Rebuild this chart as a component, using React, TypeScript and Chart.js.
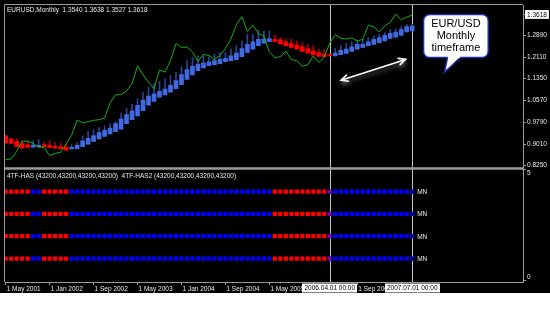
import React, { useEffect, useRef } from 'react';
import { Chart, registerables } from 'chart.js';

Chart.register(...registerables);

// ---------- data ----------
const headerSymbol = 'EURUSD,Monthly';
const headerOHLC = [1.354, 1.3638, 1.3527, 1.3618];
const subTitle = '4TF-HAS (43200,43200,43200,43200)  4TF-HAS2 (43200,43200,43200,43200)';

// bar index 0 = May 2001 ... 74 = Jul 2007
const timeTickIndex = [0, 8, 16, 24, 32, 40, 48, 56, 64, 72];
const timeTickLabels = [
  '1 May 2001', '1 Jan 2002', '1 Sep 2002', '1 May 2003', '1 Jan 2004',
  '1 Sep 2004', '1 May 2005', '1 Jan 2006', '1 Sep 2006', '1 May 2007',
];

// Heiken Ashi smoothed candles
const haOpen = [
  0.931, 0.919, 0.911, 0.903, 0.899, 0.891, 0.892, 0.899, 0.897, 0.894,
  0.892, 0.890, 0.884, 0.885, 0.892, 0.901, 0.911, 0.920, 0.929, 0.938,
  0.946, 0.955, 0.974, 0.989, 1.002, 1.021, 1.040, 1.054, 1.069, 1.077,
  1.087, 1.099, 1.113, 1.132, 1.148, 1.163, 1.173, 1.181, 1.185, 1.188,
  1.195, 1.199, 1.202, 1.213, 1.228, 1.240, 1.252, 1.261, 1.267, 1.275,
  1.273, 1.266, 1.261, 1.254, 1.249, 1.242, 1.234, 1.228, 1.222, 1.220,
  1.216, 1.220, 1.225, 1.232, 1.240, 1.246, 1.252, 1.257, 1.263, 1.269,
  1.278, 1.283, 1.289, 1.301, 1.305,
];
const haClose = [
  0.905, 0.904, 0.892, 0.887, 0.890, 0.897, 0.897, 0.892, 0.890, 0.887,
  0.884, 0.880, 0.890, 0.897, 0.913, 0.922, 0.932, 0.943, 0.951, 0.959,
  0.975, 0.991, 1.007, 1.020, 1.040, 1.058, 1.073, 1.081, 1.090, 1.098,
  1.111, 1.128, 1.149, 1.167, 1.179, 1.187, 1.190, 1.195, 1.199, 1.204,
  1.207, 1.216, 1.226, 1.242, 1.257, 1.266, 1.275, 1.277, 1.278, 1.267,
  1.259, 1.252, 1.246, 1.240, 1.232, 1.226, 1.219, 1.214, 1.213, 1.2175,
  1.226, 1.236, 1.240, 1.248, 1.257, 1.257, 1.266, 1.275, 1.281, 1.289,
  1.296, 1.301, 1.310, 1.320, 1.322,
];
const haHigh = [
  0.934, 0.922, 0.919, 0.914, 0.913, 0.913, 0.917, 0.908, 0.913, 0.907,
  0.905, 0.903, 0.899, 0.907, 0.931, 0.946, 0.952, 0.960, 0.967, 0.974,
  0.981, 1.012, 1.028, 1.044, 1.063, 1.085, 1.105, 1.116, 1.125, 1.134,
  1.146, 1.158, 1.178, 1.199, 1.210, 1.216, 1.216, 1.213, 1.222, 1.228,
  1.228, 1.240, 1.252, 1.269, 1.293, 1.293, 1.307, 1.305, 1.305, 1.290,
  1.281, 1.277, 1.275, 1.269, 1.263, 1.257, 1.252, 1.240, 1.238, 1.220,
  1.242, 1.254, 1.261, 1.266, 1.273, 1.275, 1.281, 1.287, 1.293, 1.299,
  1.310, 1.313, 1.320, 1.328, 1.328,
];
// monthly close (green line)
const closes = [
  0.8461, 0.8488, 0.8760, 0.9120, 0.9118, 0.9036, 0.8906, 0.8895,
  0.8606, 0.8682, 0.8721, 0.9016, 0.9330, 0.9866, 0.9780, 0.9810, 0.9863, 0.9885, 0.9940, 1.0489,
  1.0772, 1.0777, 1.0911, 1.1170, 1.1804, 1.1488, 1.1226, 1.0990, 1.1654, 1.1583, 1.1989, 1.2597,
  1.2462, 1.2475, 1.2300, 1.1965, 1.2210, 1.2178, 1.2028, 1.2175, 1.2420, 1.2760, 1.3273, 1.3558,
  1.3035, 1.3250, 1.2960, 1.2865, 1.2303, 1.2100, 1.2125, 1.2335, 1.2025, 1.1985, 1.1790, 1.1845,
  1.2155, 1.1925, 1.2115, 1.2623, 1.2915, 1.2790, 1.2760, 1.2805, 1.2680, 1.2755, 1.3250, 1.3200,
  1.3015, 1.3225, 1.3355, 1.3650, 1.3450, 1.3540, 1.3618,
];
// 4TF-HAS signal per bar: 1 up (blue), -1 down (red), 0 switching
const signal = [
  -1, -1, -1, -1, -1, 1, 1, -1, -1, -1,
  -1, -1, 1, 1, 1, 1, 1, 1, 1, 1,
  1, 1, 1, 1, 1, 1, 1, 1, 1, 1,
  1, 1, 1, 1, 1, 1, 1, 1, 1, 1,
  1, 1, 1, 1, 1, 1, 1, 1, 1, -1,
  -1, -1, -1, -1, -1, -1, -1, -1, -1, 0,
  1, 1, 1, 1, 1, 1, 1, 1, 1, 1,
  1, 1, 1, 1, 1,
];
const signalRows = [4, 3, 2, 1];
const rowLabels = ['MN', 'MN', 'MN', 'MN'];
const subTicks = [0, 5];

const priceTicks = [0.825, 0.901, 0.979, 1.057, 1.135, 1.211, 1.289];
const lastPrice = 1.3618;

const sepIndex = [59, 74];
const sepLabels = ['2006.04.01 00:00', '2007.07.01 00:00'];

const calloutLines = ['EUR/USD', 'Monthly', 'timeframe'];
const calloutX = [76.07, 87.84];
const calloutY = [1.3638, 1.2104];
const calloutTip = [79.87, 1.1575];
const arrowFrom = [61.05, 1.1293];
const arrowTo = [72.8, 1.2033];

// ---------- styles ----------
const FONT = '"Liberation Sans", Arial, sans-serif';
const TEXT = '#e8e8e8';
const FRAME = '#9a9a9a';
const BLUE_BODY = '#4169e1';
const BLUE_WICK = '#2a4496';
const RED_BODY = '#ff0000';
const RED_WICK = '#b00000';
const GREEN = '#14b014';

function roundRectPath(ctx: CanvasRenderingContext2D, x: number, y: number, w: number, h: number, r: number) {
  ctx.moveTo(x + r, y);
  ctx.lineTo(x + w - r, y);
  ctx.arcTo(x + w, y, x + w, y + r, r);
  ctx.lineTo(x + w, y + h - r);
  ctx.arcTo(x + w, y + h, x + w - r, y + h, r);
  ctx.lineTo(x + r, y + h);
  ctx.arcTo(x, y + h, x, y + h - r, r);
  ctx.lineTo(x, y + r);
  ctx.arcTo(x, y, x + r, y, r);
  ctx.closePath();
}

const decorPlugin = {
  id: 'mtDecor',
  beforeDatasetsDraw(chart: any) {
    const { ctx, scales } = chart;
    const x = scales.x, y = scales.y, y2 = scales.y2;
    ctx.save();
    ctx.strokeStyle = '#c4c4c4';
    ctx.lineWidth = 1;
    sepIndex.forEach((i) => {
      const px = Math.round(x.getPixelForValue(i)) + 0.5;
      ctx.beginPath();
      ctx.moveTo(px, y.top);
      ctx.lineTo(px, y2.bottom);
      ctx.stroke();
    });
    ctx.restore();
  },
  afterDraw(chart: any) {
    const { ctx, chartArea: ca, scales } = chart;
    const x = scales.x, y = scales.y, y2 = scales.y2;
    ctx.save();
    // frame (top + left) and pane separator
    ctx.strokeStyle = FRAME;
    ctx.lineWidth = 1;
    ctx.beginPath();
    ctx.moveTo(ca.left - 0.5, ca.bottom);
    ctx.lineTo(ca.left - 0.5, ca.top - 0.5);
    ctx.lineTo(ca.right, ca.top - 0.5);
    ctx.stroke();
    ctx.fillStyle = FRAME;
    ctx.fillRect(ca.left - 1, y.bottom - 1, ca.right - ca.left + 1, 2.5);

    // header texts
    ctx.fillStyle = TEXT;
    ctx.font = `6.5px ${FONT}`;
    ctx.textBaseline = 'middle';
    ctx.textAlign = 'left';
    ctx.fillText(headerSymbol + '  ' + headerOHLC.map((v) => v.toFixed(4)).join(' '), ca.left + 2, y.top + 5);
    ctx.fillText(subTitle, ca.left + 2, y2.top + 8);

    // MN labels
    const lastX = x.getPixelForValue(signal.length - 1);
    signalRows.forEach((r, k) => {
      ctx.fillText(rowLabels[k], lastX + 5, y2.getPixelForValue(r) + 0.5);
    });

    // vertical line date boxes
    ctx.textAlign = 'center';
    sepIndex.forEach((i, k) => {
      const px = x.getPixelForValue(i);
      const w = ctx.measureText(sepLabels[k]).width + 4;
      ctx.fillStyle = '#ffffff';
      ctx.fillRect(Math.round(px - w / 2), ca.bottom + 1.5, Math.round(w), 9);
      ctx.fillStyle = '#000000';
      ctx.fillText(sepLabels[k], px, ca.bottom + 6.2);
    });

    // arrow
    const ax0 = x.getPixelForValue(arrowFrom[0]), ay0 = y.getPixelForValue(arrowFrom[1]);
    const ax1 = x.getPixelForValue(arrowTo[0]), ay1 = y.getPixelForValue(arrowTo[1]);
    ctx.save();
    ctx.shadowColor = 'rgba(190,190,190,0.55)';
    ctx.shadowBlur = 4;
    ctx.shadowOffsetY = 3;
    ctx.strokeStyle = '#ffffff';
    ctx.lineWidth = 1.6;
    ctx.lineCap = 'round';
    const ang = Math.atan2(ay1 - ay0, ax1 - ax0);
    const head = 7.5, spread = 0.45;
    ctx.beginPath();
    ctx.moveTo(ax0, ay0);
    ctx.lineTo(ax1, ay1);
    ctx.moveTo(ax1 - head * Math.cos(ang - spread), ay1 - head * Math.sin(ang - spread));
    ctx.lineTo(ax1, ay1);
    ctx.lineTo(ax1 - head * Math.cos(ang + spread), ay1 - head * Math.sin(ang + spread));
    ctx.moveTo(ax0 + head * Math.cos(ang - spread), ay0 + head * Math.sin(ang - spread));
    ctx.lineTo(ax0, ay0);
    ctx.lineTo(ax0 + head * Math.cos(ang + spread), ay0 + head * Math.sin(ang + spread));
    ctx.stroke();
    ctx.restore();

    // callout
    const bx0 = x.getPixelForValue(calloutX[0]), bx1 = x.getPixelForValue(calloutX[1]);
    const by0 = y.getPixelForValue(calloutY[0]), by1 = y.getPixelForValue(calloutY[1]);
    const tx = x.getPixelForValue(calloutTip[0]), ty = y.getPixelForValue(calloutTip[1]);
    ctx.beginPath();
    roundRectPath(ctx, bx0, by0, bx1 - bx0, by1 - by0, 6);
    ctx.fillStyle = '#ffffff';
    ctx.fill();
    ctx.strokeStyle = '#1c2fb0';
    ctx.lineWidth = 1.5;
    ctx.stroke();
    ctx.beginPath();
    ctx.moveTo(bx0 + 24, by1 - 1);
    ctx.lineTo(tx, ty);
    ctx.lineTo(bx0 + 37, by1 - 1);
    ctx.closePath();
    ctx.fill();
    ctx.beginPath();
    ctx.moveTo(bx0 + 24, by1);
    ctx.lineTo(tx, ty);
    ctx.lineTo(bx0 + 37, by1);
    ctx.stroke();
    ctx.fillRect(bx0 + 24.8, by1 - 1.6, 11.4, 2.2);
    ctx.fillStyle = '#000000';
    ctx.font = `11px ${FONT}`;
    ctx.textAlign = 'center';
    ctx.textBaseline = 'alphabetic';
    const cx = (bx0 + bx1) / 2;
    calloutLines.forEach((t, k) => ctx.fillText(t, cx, by0 + 12.8 + k * 12));
    ctx.restore();
  },
};

function buildConfig(): any {
  const isUp = (i: number) => haClose[i] >= haOpen[i];
  const datasets: any[] = [
    {
      type: 'line',
      label: 'Close',
      data: closes.map((c, i) => ({ x: i, y: c })),
      borderColor: GREEN,
      borderWidth: 1,
      pointRadius: 0,
      tension: 0,
      xAxisID: 'x',
      yAxisID: 'y',
      order: 0,
    },
    {
      type: 'bar',
      label: 'HA body',
      data: haOpen.map((o, i) => ({ x: i, y: [o, haClose[i]] })),
      backgroundColor: haOpen.map((_, i) => (isUp(i) ? BLUE_BODY : RED_BODY)),
      barThickness: 4,
      grouped: false,
      minBarLength: 1,
      xAxisID: 'x',
      yAxisID: 'y',
      order: 1,
    },
    {
      type: 'bar',
      label: 'HA wick',
      data: haOpen.map((o, i) => ({ x: i, y: [Math.min(o, haClose[i]), haHigh[i]] })),
      backgroundColor: haOpen.map((_, i) => (isUp(i) ? BLUE_WICK : RED_WICK)),
      barThickness: 1,
      grouped: false,
      xAxisID: 'x',
      yAxisID: 'y',
      order: 2,
    },
  ];
  const last = signal.length - 1;
  signalRows.forEach((row, k) => {
    datasets.push({
      type: 'scatter',
      label: 'row' + k,
      data: signal.map((_, i) => ({ x: i, y: row })),
      pointStyle: 'rect',
      pointRadius: signal.map((s, i) => (s === 0 || i === last ? 2.5 : 3.0)),
      pointBackgroundColor: signal.map((s, i) => (i === last ? '#000000' : s <= 0 ? '#ff0000' : '#0000ff')),
      pointBorderColor: '#0000ff',
      pointBorderWidth: signal.map((s, i) => (s === 0 || i === last ? 1 : 0)),
      showLine: false,
      xAxisID: 'x',
      yAxisID: 'y2',
      order: 3,
    });
  });

  const tickFont = { size: 6.5, family: FONT };
  return {
    type: 'bar',
    data: { datasets },
    plugins: [decorPlugin],
    options: {
      responsive: false,
      maintainAspectRatio: false,
      animation: false,
      devicePixelRatio: 1,
      events: [],
      layout: { padding: { top: 2, left: 2, right: 0, bottom: 0 } },
      plugins: { legend: { display: false }, tooltip: { enabled: false }, title: { display: false } },
      scales: {
        x: {
          type: 'linear',
          position: 'bottom',
          min: -0.127,
          max: 94.17,
          bounds: 'data',
          offset: false,
          afterFit: (s: any) => { s.height = 11; s.paddingLeft = 0; s.paddingRight = 0; },
          afterBuildTicks: (s: any) => { s.ticks = timeTickIndex.map((v) => ({ value: v })); },
          ticks: {
            autoSkip: false,
            maxRotation: 0,
            minRotation: 0,
            align: 'start',
            padding: 0,
            labelOffset: 1,
            color: TEXT,
            font: tickFont,
            callback: (_v: any, idx: number) => timeTickLabels[idx],
          },
          grid: { drawOnChartArea: false, drawTicks: true, tickLength: 3, color: FRAME, offset: false },
          border: { display: true, color: FRAME },
        },
        y: {
          type: 'linear',
          position: 'right',
          stack: 'panes',
          stackWeight: 165,
          min: 0.8155,
          max: 1.3973,
          bounds: 'data',
          afterFit: (s: any) => { s.width = 27; s.paddingTop = 0; s.paddingBottom = 0; },
          afterBuildTicks: (s: any) => { s.ticks = [...priceTicks, lastPrice].map((v) => ({ value: v })); },
          ticks: {
            padding: 1,
            font: tickFont,
            color: (c: any) => (c.tick && c.tick.value === lastPrice ? '#000000' : TEXT),
            showLabelBackdrop: (c: any) => !!(c.tick && c.tick.value === lastPrice),
            backdropColor: '#ffffff',
            backdropPadding: { top: 1, bottom: 0, left: 2, right: 2 },
            callback: (v: any) => Number(v).toFixed(4),
          },
          grid: { drawOnChartArea: false, drawTicks: true, tickLength: 3, color: FRAME },
          border: { display: true, color: FRAME },
        },
        y2: {
          type: 'linear',
          position: 'right',
          stack: 'panes',
          stackWeight: 115,
          min: -0.053,
          max: 5.051,
          bounds: 'data',
          offset: false,
          afterFit: (s: any) => { s.width = 27; s.paddingTop = 0; s.paddingBottom = 0; },
          afterBuildTicks: (s: any) => { s.ticks = subTicks.map((v) => ({ value: v })); },
          ticks: {
            padding: 1,
            font: tickFont,
            color: TEXT,
            callback: (v: any) => (Number(v) > 0 ? ['', String(v)] : [String(v), '']),
          },
          grid: { drawOnChartArea: false, drawTicks: true, tickLength: 3, color: FRAME },
          border: { display: true, color: FRAME },
        },
      },
    },
  };
}

export default function App() {
  const canvasRef = useRef<HTMLCanvasElement>(null);
  useEffect(() => {
    if (!canvasRef.current) return;
    const chart = new Chart(canvasRef.current, buildConfig());
    return () => chart.destroy();
  }, []);
  return (
    <div style={{ position: 'fixed', left: 0, top: 0, width: 550, height: 293, background: '#000' }}>
      <canvas ref={canvasRef} width={550} height={293} style={{ display: 'block', width: 550, height: 293 }} />
    </div>
  );
}
